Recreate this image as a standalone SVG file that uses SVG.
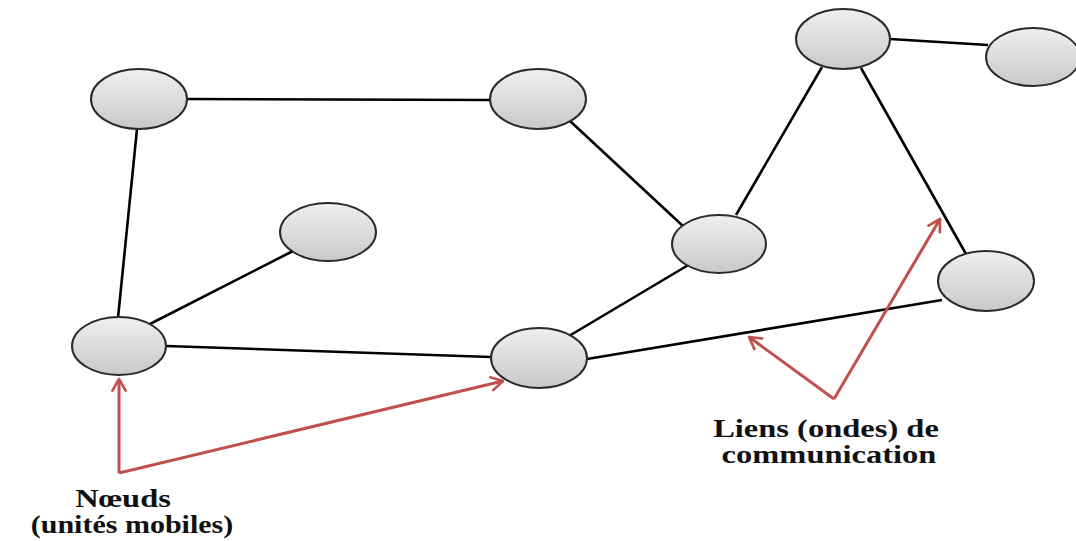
<svg xmlns="http://www.w3.org/2000/svg" width="1076" height="541" viewBox="0 0 1076 541">
  <defs>
    <linearGradient id="nodeFill" x1="0" y1="0" x2="0" y2="1">
      <stop offset="0" stop-color="#efefef"/>
      <stop offset="1" stop-color="#c9c9c9"/>
    </linearGradient>
    <marker id="redHead" viewBox="0 0 10 10" refX="8" refY="5" markerWidth="5.5" markerHeight="5.5" orient="auto" markerUnits="strokeWidth">
      <path d="M1,1 L8,5 L1,9" fill="none" stroke="#c0504d" stroke-width="1.6" stroke-linecap="round" stroke-linejoin="round"/>
    </marker>
  </defs>
  <style>
    .node { fill: url(#nodeFill); stroke: #2a2a2a; stroke-width: 2; }
    .link { stroke: #000; stroke-width: 2.6; fill: none; }
    .pointer { stroke: #c0504d; stroke-width: 3; fill: none; stroke-linejoin: miter; }
    .label { font-family: "Liberation Serif", "Times New Roman", serif; font-size: 25px; font-weight: bold; fill: #111; text-anchor: middle; }
  </style>
  <rect width="1076" height="541" fill="#fff"/>

  <!-- communication links -->
  <g id="links">
    <line class="link" x1="187" y1="99" x2="490" y2="100"/>
    <line class="link" x1="137" y1="129" x2="118" y2="318"/>
    <line class="link" x1="293" y1="251" x2="150" y2="324"/>
    <line class="link" x1="166" y1="346" x2="491" y2="357"/>
    <line class="link" x1="569" y1="336" x2="690" y2="264"/>
    <line class="link" x1="570" y1="121" x2="684" y2="227"/>
    <line class="link" x1="736" y1="215" x2="822" y2="67"/>
    <line class="link" x1="890" y1="39" x2="988" y2="45"/>
    <line class="link" x1="861" y1="68" x2="966" y2="254"/>
    <line class="link" x1="587" y1="359" x2="942" y2="300"/>
  </g>

  <!-- mobile nodes -->
  <g id="node-a"><ellipse class="node" cx="139" cy="99" rx="48" ry="30"/></g>
  <g id="node-b"><ellipse class="node" cx="538" cy="99" rx="48" ry="30"/></g>
  <g id="node-c"><ellipse class="node" cx="843" cy="39" rx="47" ry="30"/></g>
  <g id="node-d"><ellipse class="node" cx="1033" cy="57" rx="47" ry="29"/></g>
  <g id="node-e"><ellipse class="node" cx="328" cy="232" rx="48" ry="29"/></g>
  <g id="node-f"><ellipse class="node" cx="719" cy="244" rx="47" ry="29"/></g>
  <g id="node-g"><ellipse class="node" cx="986" cy="281" rx="48" ry="30"/></g>
  <g id="node-h"><ellipse class="node" cx="119" cy="346" rx="47" ry="29"/></g>
  <g id="node-i"><ellipse class="node" cx="539" cy="358" rx="48" ry="30"/></g>

  <!-- callout pointers -->
  <g id="pointers">
    <polyline class="pointer" points="119,473 119,379" marker-end="url(#redHead)"/>
    <polyline class="pointer" points="119,473 503,381" marker-end="url(#redHead)"/>
    <polyline class="pointer" points="834,399 749,337" marker-end="url(#redHead)"/>
    <polyline class="pointer" points="834,399 940,219" marker-end="url(#redHead)"/>
  </g>

  <!-- captions, set wide -->
  <g id="caption-links">
    <text class="label" transform="translate(826,437) scale(1.3,1)">Liens (ondes) de</text>
    <text class="label" transform="translate(829,463) scale(1.3,1)">communication</text>
  </g>
  <g id="caption-nodes">
    <text class="label" transform="translate(123,507) scale(1.3,1)">Nœuds</text>
    <text class="label" transform="translate(132,533) scale(1.2,1)">(unités mobiles)</text>
  </g>
</svg>
